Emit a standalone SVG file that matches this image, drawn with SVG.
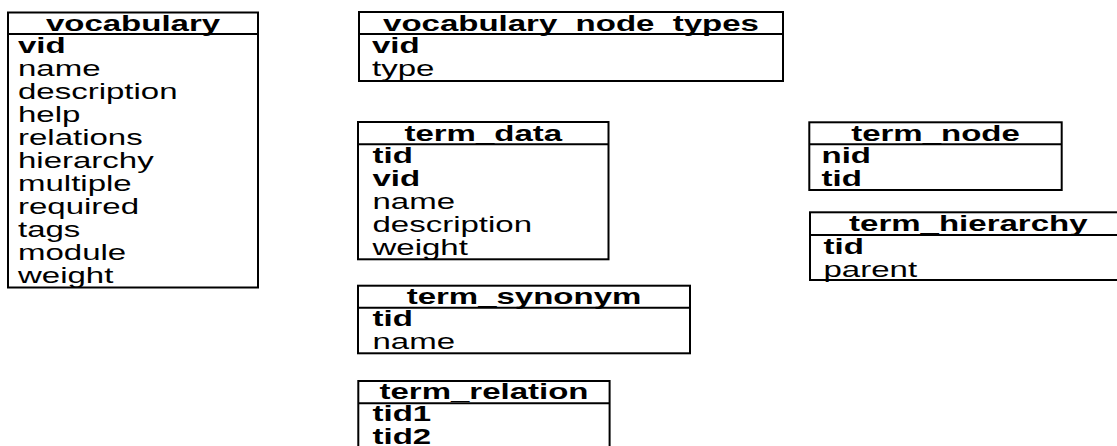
<svg xmlns="http://www.w3.org/2000/svg" width="1117" height="446" viewBox="0 0 1117 446">
  <style>
    .box { fill: #ffffff; stroke: #000000; stroke-width: 2; }
    .sep { stroke: #000000; stroke-width: 2; }
    text { font-family: "Liberation Sans", Arial, Helvetica, sans-serif; font-size: 21.5px; fill: #000000; }
    .hdr { font-weight: bold; text-anchor: middle; }
    .key { font-weight: bold; }
  </style>

  <rect width="1117" height="446" fill="#ffffff"/>

  <!-- table: vocabulary -->
  <g id="vocabulary">
    <rect class="box" x="8" y="12.5" width="250" height="275"/>
    <line class="sep" x1="8" y1="34" x2="258" y2="34"/>
    <text class="hdr" transform="translate(133 31) scale(1.535 1)">vocabulary</text>
    <text class="key" transform="translate(18 52.5) scale(1.535 1)">vid</text>
    <text transform="translate(18 75.5) scale(1.535 1)">name</text>
    <text transform="translate(18 98.6) scale(1.535 1)">description</text>
    <text transform="translate(18 121.6) scale(1.535 1)">help</text>
    <text transform="translate(18 144.7) scale(1.535 1)">relations</text>
    <text transform="translate(18 167.7) scale(1.535 1)">hierarchy</text>
    <text transform="translate(18 190.8) scale(1.535 1)">multiple</text>
    <text transform="translate(18 213.8) scale(1.535 1)">required</text>
    <text transform="translate(18 236.9) scale(1.535 1)">tags</text>
    <text transform="translate(18 259.9) scale(1.535 1)">module</text>
    <text transform="translate(18 283) scale(1.535 1)">weight</text>
  </g>

  <!-- table: vocabulary_node_types -->
  <g id="vocabulary_node_types">
    <rect class="box" x="359" y="12" width="424" height="69"/>
    <line class="sep" x1="359" y1="34" x2="783" y2="34"/>
    <text class="hdr" transform="translate(571 31) scale(1.535 1)">vocabulary_node_types</text>
    <text class="key" transform="translate(372 52.5) scale(1.535 1)">vid</text>
    <text transform="translate(372 75.5) scale(1.535 1)">type</text>
  </g>

  <!-- table: term_data -->
  <g id="term_data">
    <rect class="box" x="358" y="122" width="250.5" height="137.3"/>
    <line class="sep" x1="358" y1="144.3" x2="608.5" y2="144.3"/>
    <text class="hdr" transform="translate(483.3 140.5) scale(1.535 1)">term_data</text>
    <text class="key" transform="translate(372.5 163) scale(1.535 1)">tid</text>
    <text class="key" transform="translate(372.5 186) scale(1.535 1)">vid</text>
    <text transform="translate(372.5 209) scale(1.535 1)">name</text>
    <text transform="translate(372.5 232) scale(1.535 1)">description</text>
    <text transform="translate(372.5 255) scale(1.535 1)">weight</text>
  </g>

  <!-- table: term_synonym -->
  <g id="term_synonym">
    <rect class="box" x="358" y="285.7" width="332" height="67.6"/>
    <line class="sep" x1="358" y1="307.7" x2="690" y2="307.7"/>
    <text class="hdr" transform="translate(524 304.2) scale(1.535 1)">term_synonym</text>
    <text class="key" transform="translate(372.5 326.4) scale(1.535 1)">tid</text>
    <text transform="translate(372.5 349.4) scale(1.535 1)">name</text>
  </g>

  <!-- table: term_relation (runs past the lower edge) -->
  <g id="term_relation">
    <rect class="box" x="358.3" y="381" width="251.3" height="69"/>
    <line class="sep" x1="358.3" y1="403.3" x2="609.6" y2="403.3"/>
    <text class="hdr" transform="translate(484 398.5) scale(1.535 1)">term_relation</text>
    <text class="key" transform="translate(372.5 421) scale(1.535 1)">tid1</text>
    <text class="key" transform="translate(372.5 443.5) scale(1.535 1)">tid2</text>
  </g>

  <!-- table: term_node -->
  <g id="term_node">
    <rect class="box" x="809.3" y="122.3" width="252.4" height="67.7"/>
    <line class="sep" x1="809.3" y1="144.3" x2="1061.7" y2="144.3"/>
    <text class="hdr" transform="translate(935.5 140.8) scale(1.535 1)">term_node</text>
    <text class="key" transform="translate(821.5 163) scale(1.535 1)">nid</text>
    <text class="key" transform="translate(821.5 186) scale(1.535 1)">tid</text>
  </g>

  <!-- table: term_hierarchy (runs past the right edge) -->
  <g id="term_hierarchy">
    <rect class="box" x="810" y="212.3" width="316.6" height="67.7"/>
    <line class="sep" x1="810" y1="235" x2="1126.6" y2="235"/>
    <text class="hdr" transform="translate(968.3 231) scale(1.535 1)">term_hierarchy</text>
    <text class="key" transform="translate(823.5 253.5) scale(1.535 1)">tid</text>
    <text transform="translate(823.5 276.5) scale(1.535 1)">parent</text>
  </g>

  <!-- no relationship lines are drawn between the tables -->
  <g id="connectors"></g>
</svg>
